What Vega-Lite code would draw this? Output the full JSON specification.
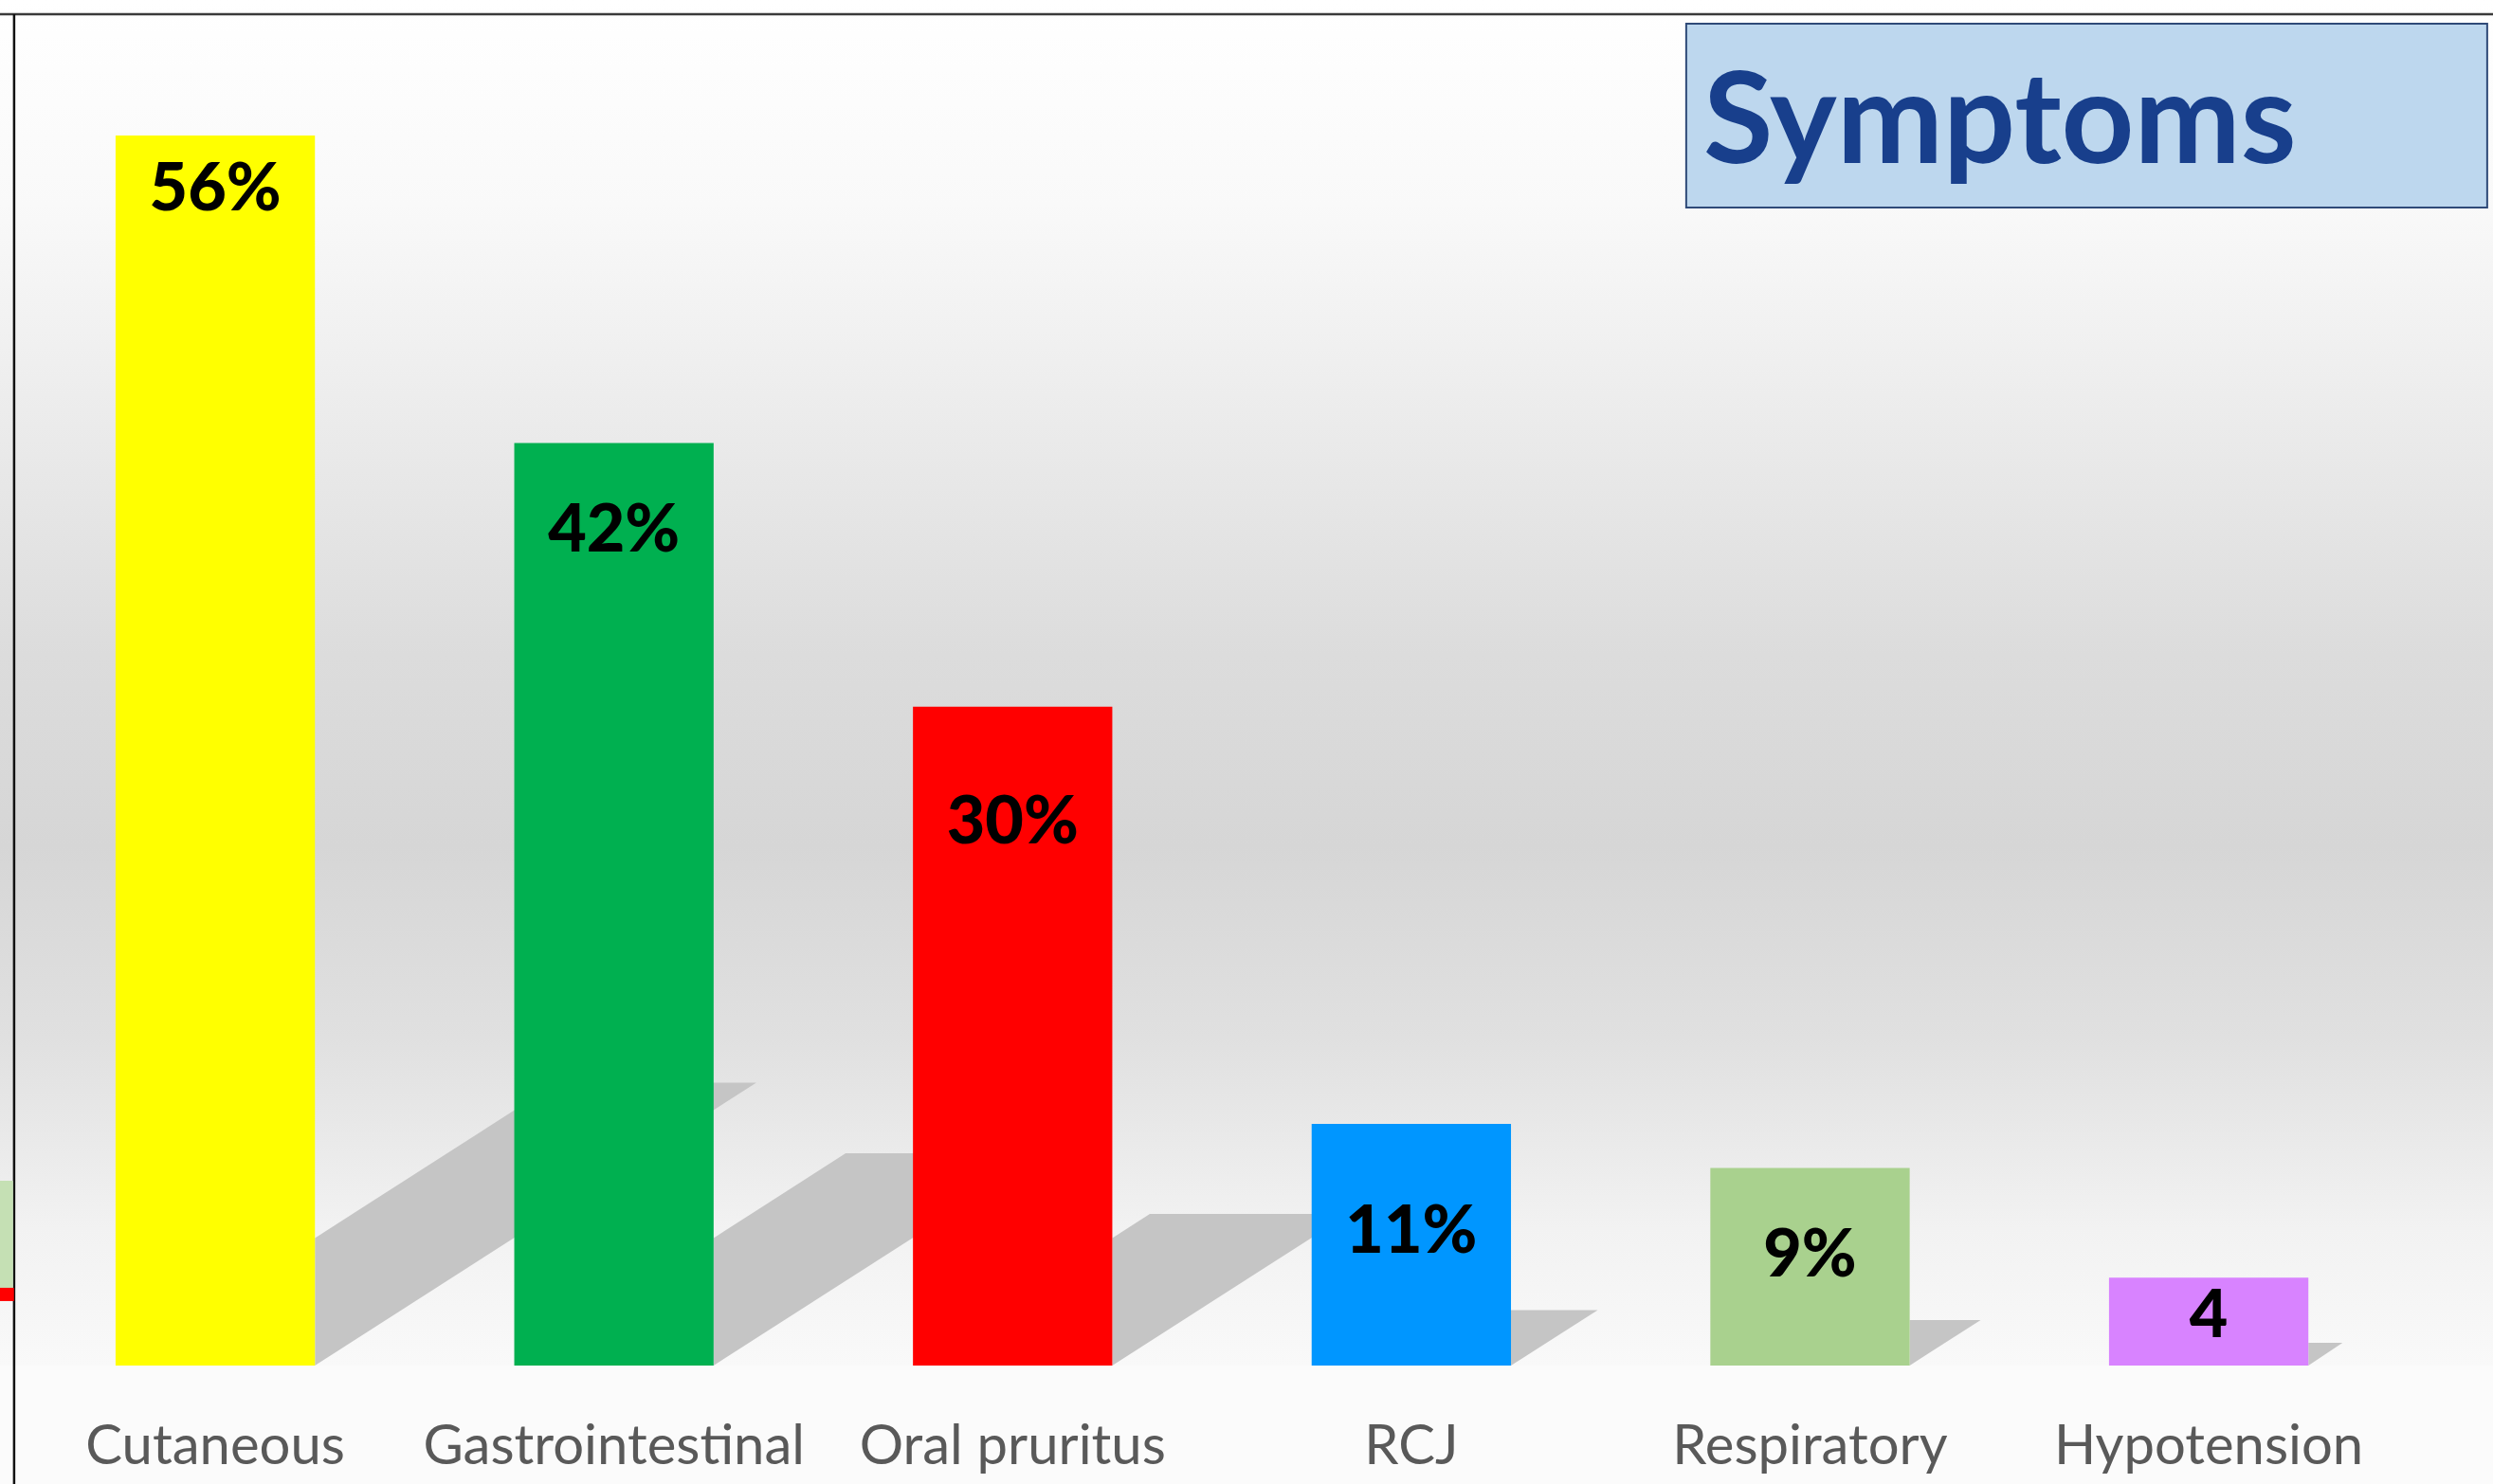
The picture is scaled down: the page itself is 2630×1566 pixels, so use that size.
{
  "$schema": "https://vega.github.io/schema/vega-lite/v6.json",
  "width": 2630,
  "height": 1441,
  "autosize": {"type": "none"},
  "padding": {"left": 0, "top": 0, "right": 0, "bottom": 125},
  "background": "#fbfbfb",
  "config": {"view": {"stroke": null}, "font": "Lato"},
  "data": {
    "values": [
      {"symptom": "Cutaneous", "value": 56, "label": "56%"},
      {"symptom": "Gastrointestinal", "value": 42, "label": "42%"},
      {"symptom": "Oral pruritus", "value": 30, "label": "30%"},
      {"symptom": "RCJ", "value": 11, "label": "11%"},
      {"symptom": "Respiratory", "value": 9, "label": "9%"},
      {"symptom": "Hypotension", "value": 4, "label": "4"}
    ]
  },
  "layer": [
    {
      "mark": {"type": "bar", "opacity": 0},
      "encoding": {
        "x": {
          "field": "symptom", "type": "nominal", "sort": null,
          "scale": {
            "type": "band",
            "domain": ["Cutaneous", "Gastrointestinal", "Oral pruritus", "RCJ", "Respiratory", "Hypotension"],
            "paddingInner": 0.5, "paddingOuter": 0.3765, "align": 0.385
          },
          "axis": {
            "title": null, "domain": false, "ticks": false, "labelAngle": 0,
            "labelFont": "Lato", "labelFontSize": 58, "labelColor": "#595959",
            "labelPadding": 57, "labelBaseline": "top", "labelLimit": 0
          }
        },
        "y": {
          "field": "value", "type": "quantitative",
          "scale": {"domain": [0, 62.17], "nice": false, "zero": false},
          "axis": null
        }
      }
    },
    {
      "data": {"values": [{"a": "bg"}]},
      "mark": {
        "type": "rect",
        "color": {
          "gradient": "linear", "x1": 0, "y1": 0, "x2": 0, "y2": 1,
          "stops": [
            {"offset": 0, "color": "#ffffff"},
            {"offset": 0.15, "color": "#f9f9f9"},
            {"offset": 0.3, "color": "#ececec"},
            {"offset": 0.48, "color": "#dcdcdc"},
            {"offset": 0.62, "color": "#d6d6d6"},
            {"offset": 0.76, "color": "#e0e0e0"},
            {"offset": 0.9, "color": "#f2f2f2"},
            {"offset": 1, "color": "#f9f9f9"}
          ]
        }
      },
      "encoding": {
        "y": {"datum": 62.17, "type": "quantitative"},
        "y2": {"datum": 0}
      }
    },
    {
      "transform": [{"filter": "datum.symptom === 'Cutaneous'"}],
      "mark": {"type": "point", "filled": true, "opacity": 1, "size": 4, "fill": "#c5c5c5", "strokeWidth": 0, "shape": "M0,0L0,-134.6L255.7,-298.5L465.7,-298.5Z"},
      "encoding": {"x": {"field": "symptom", "type": "nominal", "bandPosition": 1}, "y": {"datum": 0, "type": "quantitative"}}
    },
    {
      "transform": [{"filter": "datum.symptom === 'Gastrointestinal'"}],
      "mark": {"type": "point", "filled": true, "opacity": 1, "size": 4, "fill": "#c5c5c5", "strokeWidth": 0, "shape": "M0,0L0,-134.6L139.3,-223.9L349.3,-223.9Z"},
      "encoding": {"x": {"field": "symptom", "type": "nominal", "bandPosition": 1}, "y": {"datum": 0, "type": "quantitative"}}
    },
    {
      "transform": [{"filter": "datum.symptom === 'Oral pruritus'"}],
      "mark": {"type": "point", "filled": true, "opacity": 1, "size": 4, "fill": "#c5c5c5", "strokeWidth": 0, "shape": "M0,0L0,-134.6L39.6,-160L249.6,-160Z"},
      "encoding": {"x": {"field": "symptom", "type": "nominal", "bandPosition": 1}, "y": {"datum": 0, "type": "quantitative"}}
    },
    {
      "transform": [{"filter": "datum.symptom === 'RCJ'"}],
      "mark": {"type": "point", "filled": true, "opacity": 1, "size": 4, "fill": "#c5c5c5", "strokeWidth": 0, "shape": "M0,0L0,-58.6L91.5,-58.6Z"},
      "encoding": {"x": {"field": "symptom", "type": "nominal", "bandPosition": 1}, "y": {"datum": 0, "type": "quantitative"}}
    },
    {
      "transform": [{"filter": "datum.symptom === 'Respiratory'"}],
      "mark": {"type": "point", "filled": true, "opacity": 1, "size": 4, "fill": "#c5c5c5", "strokeWidth": 0, "shape": "M0,0L0,-48L74.9,-48Z"},
      "encoding": {"x": {"field": "symptom", "type": "nominal", "bandPosition": 1}, "y": {"datum": 0, "type": "quantitative"}}
    },
    {
      "transform": [{"filter": "datum.symptom === 'Hypotension'"}],
      "mark": {"type": "point", "filled": true, "opacity": 1, "size": 4, "fill": "#c5c5c5", "strokeWidth": 0, "shape": "M0,0L0,-24L36,-24Z"},
      "encoding": {"x": {"field": "symptom", "type": "nominal", "bandPosition": 1}, "y": {"datum": 0, "type": "quantitative"}}
    },
    {
      "mark": {"type": "bar"},
      "encoding": {
        "x": {"field": "symptom", "type": "nominal", "sort": null},
        "y": {"field": "value", "type": "quantitative"},
        "color": {
          "field": "symptom", "type": "nominal", "legend": null,
          "scale": {
            "domain": ["Cutaneous", "Gastrointestinal", "Oral pruritus", "RCJ", "Respiratory", "Hypotension"],
            "range": ["#ffff00", "#00b050", "#ff0000", "#0096ff", "#a9d18e", "#d883ff"]
          }
        }
      }
    },
    {
      "transform": [{"calculate": "max(1.108 * datum.value - 8.55, 0.55 * datum.value)", "as": "label_at"}],
      "mark": {"type": "text", "font": "Lato", "fontSize": 70, "fontWeight": 900, "color": "#000000", "baseline": "middle", "align": "center"},
      "encoding": {
        "x": {"field": "symptom", "type": "nominal", "sort": null},
        "y": {"field": "label_at", "type": "quantitative"},
        "text": {"field": "label"}
      }
    },
    {
      "data": {"values": [{"a": "top"}]},
      "mark": {"type": "rule", "color": "#3a3a3a", "strokeWidth": 2.5},
      "encoding": {"y": {"datum": 61.52, "type": "quantitative"}}
    },
    {
      "data": {"values": [{"a": "left"}]},
      "mark": {"type": "rule", "color": "#111111", "strokeWidth": 2.5},
      "encoding": {
        "x": {"datum": "Cutaneous", "type": "nominal", "bandPosition": -0.509},
        "y": {"datum": 61.52, "type": "quantitative"},
        "y2": {"datum": -5.45}
      }
    },
    {
      "data": {"values": [{"a": "g"}]},
      "mark": {"type": "point", "filled": true, "opacity": 1, "size": 4, "fill": "#c5e0b4", "strokeWidth": 0, "shape": "M0,0L14,0L14,113L0,113Z"},
      "encoding": {
        "x": {"datum": "Cutaneous", "type": "nominal", "bandPosition": -0.581},
        "y": {"datum": 8.41, "type": "quantitative"}
      }
    },
    {
      "data": {"values": [{"a": "r"}]},
      "mark": {"type": "point", "filled": true, "opacity": 1, "size": 4, "fill": "#ff0000", "strokeWidth": 0, "shape": "M0,0L15,0L15,14L0,14Z"},
      "encoding": {
        "x": {"datum": "Cutaneous", "type": "nominal", "bandPosition": -0.581},
        "y": {"datum": 3.54, "type": "quantitative"}
      }
    },
    {
      "data": {"values": [{"a": "box"}]},
      "mark": {"type": "point", "filled": true, "opacity": 1, "size": 4, "fill": "#bdd7ee", "stroke": "#2f4a78", "strokeWidth": 2, "shape": "M0,0L845,0L845,194L0,194Z"},
      "encoding": {
        "x": {"datum": "Respiratory", "type": "nominal", "bandPosition": -0.121},
        "y": {"datum": 61.09, "type": "quantitative"}
      }
    },
    {
      "data": {"values": [{"t": "Symptoms"}]},
      "mark": {"type": "text", "font": "Lato", "fontSize": 134, "fontWeight": "bold", "color": "#183f8c", "align": "left", "baseline": "alphabetic"},
      "encoding": {
        "x": {"datum": "Respiratory", "type": "nominal", "bandPosition": -0.035},
        "y": {"datum": 54.75, "type": "quantitative"},
        "text": {"field": "t"}
      }
    }
  ]
}
